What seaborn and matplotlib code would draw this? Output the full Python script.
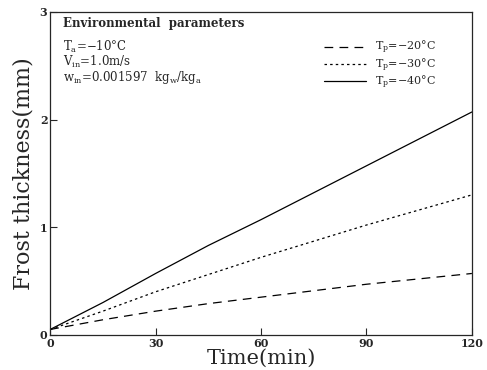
import matplotlib
matplotlib.use("Agg")
import matplotlib.pyplot as plt
import seaborn as sns
import pandas as pd

# ================= data =================
time_min = [0, 15, 30, 45, 60, 75, 90, 105, 120]
tp_m20 = [0.05, 0.14, 0.22, 0.29, 0.35, 0.41, 0.47, 0.52, 0.57]
tp_m30 = [0.05, 0.22, 0.40, 0.56, 0.72, 0.87, 1.02, 1.16, 1.30]
tp_m40 = [0.05, 0.30, 0.57, 0.83, 1.07, 1.32, 1.57, 1.82, 2.07]
labels = [r'$\mathrm{T_p}$=$-$20°C', r'$\mathrm{T_p}$=$-$30°C', r'$\mathrm{T_p}$=$-$40°C']
x_ticks = [0, 30, 60, 90, 120]
y_ticks = [0, 1, 2, 3]

sns.set_style("ticks")
plt.rcParams['font.family'] = ['DejaVu Serif']
plt.rcParams['mathtext.fontset'] = 'dejavuserif'

fig = plt.figure(figsize=(4.87, 3.70), dpi=100)
ax = fig.add_axes([0.103, 0.095, 0.866, 0.873])

styles = [(0, (7, 5)), (0, (2, 2.5)), '-']
for ys, lab, ls in zip([tp_m20, tp_m30, tp_m40], labels, styles):
    df = pd.DataFrame({'t': time_min, 'h': ys})
    sns.lineplot(data=df, x='t', y='h', ax=ax, color='black', linewidth=0.9,
                 linestyle=ls, label=lab)

ax.set_xlim(0, 120)
ax.set_ylim(0, 3)
ax.set_xticks(x_ticks)
ax.set_yticks(y_ticks)
ax.tick_params(direction='in', length=5, width=0.8, labelsize=8, pad=2)
for t in ax.get_xticklabels() + ax.get_yticklabels():
    t.set_fontweight('bold')
for s in ax.spines.values():
    s.set_linewidth(0.9)
    s.set_visible(True)

ax.set_xlabel('Time(min)', fontsize=15, labelpad=0)
ax.set_ylabel('Frost thickness(mm)', fontsize=16, labelpad=4)

ax.text(0.03, 0.985, 'Environmental  parameters', transform=ax.transAxes,
        fontsize=8.5, fontweight='bold', va='top')
ax.text(0.03, 0.915, r'$\mathrm{T_a}$=$-$10°C' + '\n' +
        r'$\mathrm{V_{in}}$=1.0m/s' + '\n' +
        r'$\mathrm{w_{in}}$=0.001597  $\mathrm{kg_w/kg_a}$',
        transform=ax.transAxes, fontsize=8.5, va='top', linespacing=0.9)

leg = ax.legend(loc='upper right', bbox_to_anchor=(0.925, 0.93), frameon=False,
                fontsize=8, handlelength=3.8, labelspacing=0.0, handletextpad=0.8,
                borderaxespad=0)

fig.savefig('out.png', dpi=100)
